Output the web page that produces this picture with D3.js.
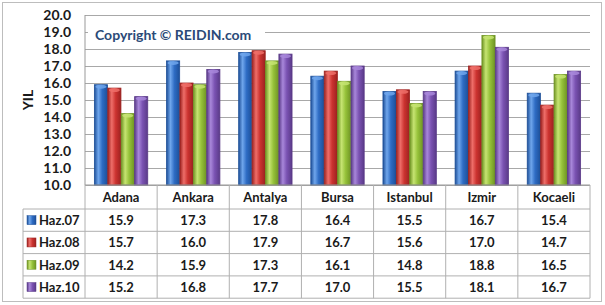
<!DOCTYPE html>
<html lang="tr">
<head>
  <meta charset="UTF-8">
  <title>Haz. YIL</title>
  <script src="https://d3js.org/d3.v7.min.js"></script>
  <style>
    body { margin: 0; background: #fff; }
    svg { display: block; font-family: Lato, "Open Sans", sans-serif; }
  </style>
</head>
<body>
  <svg width="605" height="305"></svg>

  <script>
  // chart data
  const cities = ["Adana", "Ankara", "Antalya", "Bursa", "Istanbul", "Izmir", "Kocaeli"];
  const seriesNames = ["Haz.07", "Haz.08", "Haz.09", "Haz.10"];
  const haz07 = [15.9, 17.3, 17.8, 16.4, 15.5, 16.7, 15.4];
  const haz08 = [15.7, 16.0, 17.9, 16.7, 15.6, 17.0, 14.7];
  const haz09 = [14.2, 15.9, 17.3, 16.1, 14.8, 18.8, 16.5];
  const haz10 = [15.2, 16.8, 17.7, 17.0, 15.5, 18.1, 16.7];
  const yTicks = [10, 11, 12, 13, 14, 15, 16, 17, 18, 19, 20];

  const seriesValues = [haz07, haz08, haz09, haz10];
  const colors = [
    { base: "#2e6cc4", light: "#6fa6ec", dark: "#1d4f98" },
    { base: "#cc3330", light: "#ee6e69", dark: "#9c2220" },
    { base: "#96c23a", light: "#c6e472", dark: "#6f9424" },
    { base: "#7a52b2", light: "#a887da", dark: "#5a3a88" }
  ];

  const svg = d3.select("svg");
  const plotLeft = 85, plotRight = 590, plotTop = 15, plotBottom = 185;
  const rowH = 22.3;
  const tableTop = plotBottom, headH = 24;
  const tableLeft = 23;

  // outer frame
  svg.append("rect")
    .attr("x", 2.5).attr("y", 2.5)
    .attr("width", 599).attr("height", 299)
    .attr("fill", "#fff")
    .attr("stroke", "#bdbdbd");

  const x = d3.scaleBand().domain(cities).range([plotLeft, plotRight]);
  const x1 = d3.scaleBand().domain(seriesNames).range([0, x.bandwidth()]).paddingInner(0.02).paddingOuter(0.7);
  const y = d3.scaleLinear().domain([10, 20]).range([plotBottom, plotTop]);

  // gradients for bars
  const defs = svg.append("defs");
  colors.forEach((c, i) => {
    const g = defs.append("linearGradient").attr("id", "g" + i)
      .attr("x1", "0%").attr("x2", "100%").attr("y1", "0%").attr("y2", "0%");
    g.append("stop").attr("offset", "0%").attr("stop-color", c.dark);
    g.append("stop").attr("offset", "30%").attr("stop-color", c.light);
    g.append("stop").attr("offset", "60%").attr("stop-color", c.base);
    g.append("stop").attr("offset", "100%").attr("stop-color", c.dark);
  });

  // grid
  const yAxis = d3.axisLeft(y).tickValues(yTicks).tickFormat(d3.format(".1f"))
    .tickSize(-(plotRight - plotLeft)).tickPadding(14);
  const ga = svg.append("g").attr("transform", `translate(${plotLeft},0)`).call(yAxis);
  ga.select(".domain").remove();
  ga.selectAll(".tick line").attr("stroke", "#a8a8a8").attr("stroke-width", 1);
  ga.selectAll(".tick text")
    .attr("font-size", 14).attr("font-weight", "bold").attr("fill", "#1a1a1a")
    .attr("font-family", "Lato, sans-serif");

  // copyright box over the gridline
  svg.append("rect")
    .attr("x", 88).attr("y", 24).attr("width", 177).attr("height", 20)
    .attr("fill", "#fff");
  svg.append("text")
    .attr("x", 95).attr("y", 39.5)
    .attr("font-size", 14).attr("font-weight", "bold")
    .attr("fill", "#2b4a78")
    .text("Copyright \u00A9 REIDIN.com");

  // y axis title
  svg.append("text")
    .attr("transform", "translate(33,100) rotate(-90)")
    .attr("text-anchor", "middle")
    .attr("font-size", 14).attr("font-weight", "bold").attr("fill", "#1a1a1a")
    .text("YIL");

  // bars
  const groups = svg.append("g").selectAll("g")
    .data(cities).join("g")
    .attr("transform", d => `translate(${x(d)},0)`);

  groups.selectAll("g.bar")
    .data((c, ci) => seriesNames.map((s, si) => ({ s, si, v: seriesValues[si][ci] })))
    .join("g").attr("class", "bar")
    .each(function (d) {
      const g = d3.select(this);
      const bx = x1(d.s), bw = x1.bandwidth();
      g.append("rect")
        .attr("x", bx).attr("y", y(d.v))
        .attr("width", bw).attr("height", y(10) - y(d.v))
        .attr("fill", `url(#g${d.si})`)
        .attr("stroke", colors[d.si].dark).attr("stroke-width", 0.8);
      g.append("ellipse")
        .attr("cx", bx + bw / 2).attr("cy", y(d.v) + 2)
        .attr("rx", bw / 2 - 1).attr("ry", 2)
        .attr("fill", colors[d.si].light).attr("opacity", 0.85);
    });

  // axis lines
  svg.append("line")
    .attr("x1", plotLeft).attr("x2", plotLeft).attr("y1", plotTop).attr("y2", plotBottom)
    .attr("stroke", "#999");
  svg.append("line")
    .attr("x1", plotLeft).attr("x2", plotRight).attr("y1", plotBottom).attr("y2", plotBottom)
    .attr("stroke", "#999");

  // data table
  const tbl = svg.append("g");
  const rowsY = seriesNames.map((s, i) => tableTop + headH + i * rowH);
  const tableBottom = tableTop + headH + seriesNames.length * rowH;
  const lineColor = "#b0b0b0";

  // horizontal lines
  rowsY.concat([tableBottom]).forEach(yy => {
    tbl.append("line")
      .attr("x1", tableLeft).attr("x2", plotRight)
      .attr("y1", yy).attr("y2", yy)
      .attr("stroke", lineColor);
  });
  // vertical lines
  tbl.append("line")
    .attr("x1", tableLeft).attr("x2", tableLeft)
    .attr("y1", tableTop + headH).attr("y2", tableBottom).attr("stroke", lineColor);
  cities.concat(["__end"]).forEach((c, i) => {
    const xx = i < cities.length ? x(c) : plotRight;
    tbl.append("line")
      .attr("x1", xx).attr("x2", xx)
      .attr("y1", tableTop).attr("y2", tableBottom).attr("stroke", lineColor);
  });

  // header
  tbl.selectAll("text.head").data(cities).join("text")
    .attr("class", "head")
    .attr("x", d => x(d) + x.bandwidth() / 2)
    .attr("y", tableTop + headH / 2 + 5)
    .attr("text-anchor", "middle")
    .attr("font-size", 13).attr("font-weight", "bold").attr("fill", "#1a1a1a")
    .text(d => d);

  // legend + values
  seriesNames.forEach((s, si) => {
    const cy = rowsY[si] + rowH / 2;
    tbl.append("rect")
      .attr("x", 27).attr("y", cy - 4.5).attr("width", 9).attr("height", 9)
      .attr("fill", `url(#g${si})`).attr("stroke", colors[si].dark).attr("stroke-width", 0.5);
    tbl.append("text")
      .attr("x", 39).attr("y", cy + 5)
      .attr("font-size", 13).attr("font-weight", "bold").attr("fill", "#1a1a1a")
      .text(s);
    tbl.selectAll(null).data(seriesValues[si]).join("text")
      .attr("x", (d, ci) => x(cities[ci]) + x.bandwidth() / 2)
      .attr("y", cy + 5)
      .attr("text-anchor", "middle")
      .attr("font-size", 13).attr("font-weight", "bold").attr("fill", "#1a1a1a")
      .text(d => d.toFixed(1));
  });
  </script>
</body>
</html>
